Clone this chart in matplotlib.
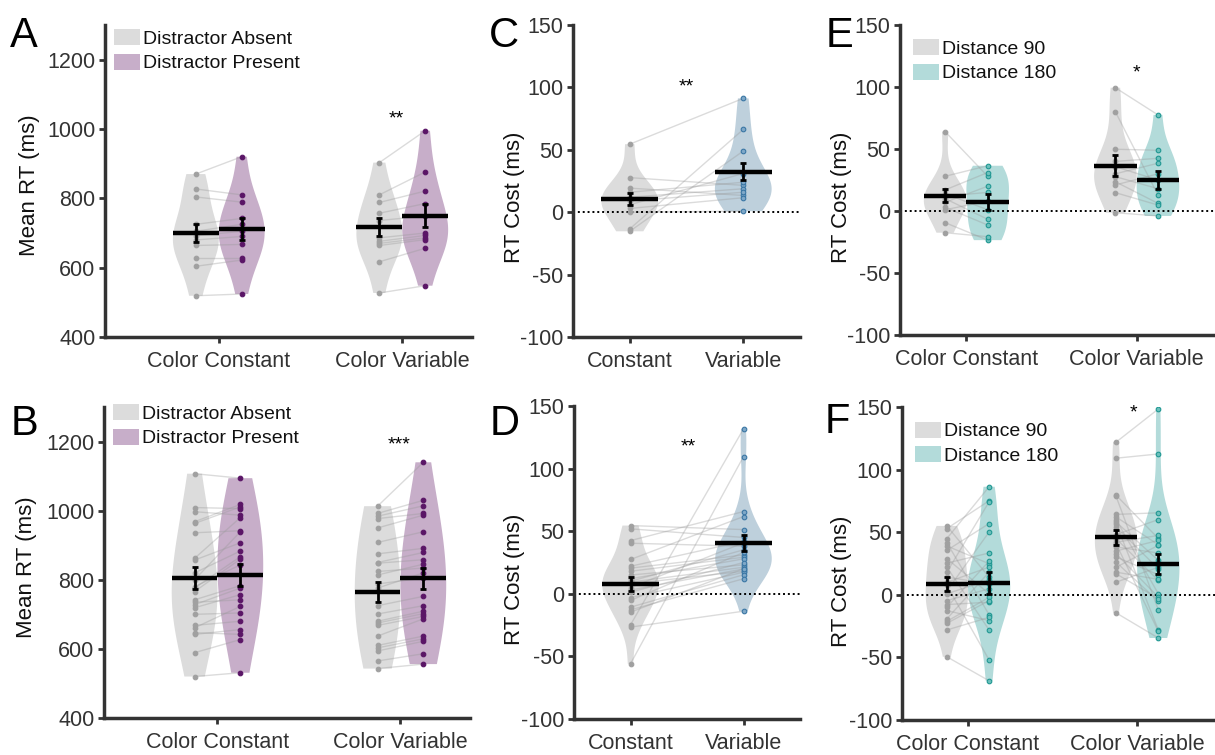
import matplotlib
matplotlib.use('Agg')
import matplotlib.pyplot as plt
from matplotlib.patches import Patch
import numpy as np

plt.rcParams['font.family'] = ['Liberation Sans', 'DejaVu Sans']
plt.rcParams['axes.unicode_minus'] = False

# ---- data ----
# Panel A, experiment 1 (11 subjects): mean RT
a_abs_con = [870, 827, 804, 725, 705, 692, 680, 664, 628, 604, 519]
a_pre_con = [920, 810, 789, 742, 725, 705, 690, 667, 628, 622, 524]
a_abs_var = [903, 810, 788, 757, 736, 686, 676, 670, 664, 617, 527]
a_pre_var = [995, 876, 821, 785, 749, 700, 693, 686, 681, 656, 548]
a_means = [[700, 711], [717, 750]]
a_sems = [[27, 31], [27, 33]]

# Panel B, experiment 2 (24 subjects): mean RT
b_abs_con = [1107, 1009, 997, 968, 963, 936, 862, 857, 820, 800, 780, 776,
             766, 742, 735, 728, 719, 700, 668, 661, 647, 642, 589, 520]
b_pre_con = [1094, 1006, 987, 1018, 1011, 942, 980, 907, 883, 939, 843, 867,
             860, 783, 742, 776, 757, 704, 680, 723, 642, 656, 627, 531]
b_abs_var = [1013, 992, 984, 977, 950, 908, 875, 850, 848, 824, 814, 788,
             776, 725, 701, 680, 675, 668, 637, 610, 603, 594, 565, 543]
b_pre_var = [1140, 1030, 1014, 992, 987, 939, 891, 879, 858, 834, 845, 805,
             820, 752, 725, 709, 702, 694, 687, 637, 629, 622, 586, 556]
b_means = [[805, 814], [765, 804]]
b_sems = [[32, 32], [29, 31]]

# Panel C: RT cost, experiment 1
c_con = [54.5, 27.7, 19.3, 16, 12, 9, 6, 3, 0, -13.4, -15.3]
c_var = [91.2, 21.5, 13.4, 24, 18.8, 16, 31, 11.6, 0.8, 66.3, 49]
c_means = [10.4, 32.5]
c_sems = [5, 7]

# Panel D: RT cost, experiment 2
d_con = [54.5, 51.9, 42.5, 40.4, 27.4, 20.5, 22, 18, 15, 12, 10, 9.3,
         8, 5, 3, 1.3, -3, -5.3, -10.7, -12.8, -14.7, -24.8, -26.6, -55.9]
d_var = [51.3, 45, 65.7, 38, 61.7, 31, 42, 29.2, 23.1, 27.9, 35.1, 21.2,
         18, 40.7, 19.9, 25, 17.2, 33, 15.2, 12, 20, 131.7, -13.9, 109.6]
d_means = [8.2, 40.4]
d_sems = [5.6, 6.5]

# Panel E: RT cost by distance, experiment 1
e_d90_con = [64, 28, 17, 14, 12, 10, 7, 3, 1, -9.4, -17.5]
e_d180_con = [28, 36.5, 31, 1, 15, -6.7, 20, -11.3, 8, -23.5, -20.7]
e_d90_var = [99.4, 80, 49.8, 40, 35.7, 30, 27.7, 23.6, 21, 14.8, -1.4]
e_d180_var = [77.5, 12.9, 49, 42.5, 25, 38.5, 18, 6.2, 30, 4.8, -4]
e_means = [[12.5, 7.3], [36.5, 25]]
e_sems = [[5.5, 6.5], [8.5, 7]]

# Panel F: RT cost by distance, experiment 2
f_d90_con = [55, 52.9, 44.9, 41.7, 39, 35.5, 28.9, 25.3, 22.1, 18.1, 14.1, 10,
             7.5, 3, 0.8, -4.6, -7.8, -9.9, -12.6, -19.2, -21.2, -22.8, -28.1, -49.5]
f_d180_con = [14.1, 75.1, 86.3, -16, 24.8, 56.9, 0.8, 33.4, -28.1, 74.3, 8.8, 22.1,
              -52.1, 50.2, 12, 4.8, -5.9, 26.9, -20.6, 18.1, -2, -4.6, -18, -68.7]
f_d90_var = [121.9, 109.1, 79.6, 78.8, 64.2, 62.2, 60.1, 58.2, 56.9, 54.2, 48, 44.9,
             42, 40.9, 38.2, 35, 32.9, 30.2, 26.1, 22, 18.1, 16.8, 10.1, -14.4]
f_d180_var = [148.4, 112.5, 45, -12, 65.5, 40, 0.8, 27.5, -28.1, 20.8, 60.1, 11.5,
              47.4, -29.2, 33.4, 43.4, -1.9, 16, -5.1, 39.5, 12.3, -3, 22, -34.5]
f_means = [[8.5, 9.5], [46, 24.5]]
f_sems = [[5.6, 8.7], [6, 8]]

# ---- styling ----
GRAY_V, GRAY_P = '#dcdcdc', '#a0a0a0'
PURP_V, PURP_P = '#c7aec9', '#5a1566'
BLUE_V, BLUE_P = '#bed0dc', '#3a76a4'
TEAL_V, TEAL_P = '#b3dbda', '#1f9792'
TXT = '#333333'
FS_TICK, FS_LAB, FS_LEG = 15.5, 16, 14

W, H = 1215, 755
fig = plt.figure(figsize=(W / 100, H / 100), dpi=100)


def px_axes(l, t, r, b):
    return fig.add_axes([l / W, 1 - b / H, (r - l) / W, (b - t) / H])


def violin(ax, x, vals, width, color, bw=None):
    parts = ax.violinplot(vals, positions=[x], widths=width, showextrema=False,
                          bw_method=bw)
    for body in parts['bodies']:
        body.set_facecolor(color)
        body.set_edgecolor('none')
        body.set_alpha(1)
        body.set_zorder(1)


def points(ax, x, vals, fc, ec):
    ax.scatter([x] * len(vals), vals, s=11, facecolor=fc, edgecolor=ec,
               linewidth=0.8, zorder=3)


def pair_lines(ax, x1, v1, x2, v2):
    for a, b in zip(v1, v2):
        ax.plot([x1, x2], [a, b], color='#999999', alpha=0.35, lw=1, zorder=2)


def mean_bar(ax, x, m, e, half):
    ax.plot([x - half, x + half], [m, m], color='k', lw=3.2,
            solid_capstyle='butt', zorder=4)
    ax.errorbar([x], [m], yerr=[e], fmt='none', ecolor='k', elinewidth=2,
                capsize=2.5, capthick=2, zorder=5)


def style(ax, xlim, ylim, yticks, xlabels, ylabel, lab_xy):
    ax.set_xlim(*xlim)
    ax.set_ylim(*ylim)
    ax.set_yticks(yticks)
    ax.set_xticks([1, 2])
    ax.set_xticklabels(xlabels)
    for s in ['top', 'right']:
        ax.spines[s].set_visible(False)
    for s in ['left', 'bottom']:
        ax.spines[s].set_linewidth(2.5)
        ax.spines[s].set_color(TXT)
    ax.tick_params(axis='both', labelsize=FS_TICK, colors=TXT, width=2,
                   length=4, direction='out')
    ax.tick_params(axis='x', pad=6)
    ax.tick_params(axis='y', pad=3)
    ax.set_ylabel(ylabel, fontsize=FS_LAB, color='#111111')
    ax.yaxis.set_label_coords(*lab_xy)


def paired_panel(ax, data, means, sems, vcolors, pcolors, bw=None):
    # data: [[cond1, cond2] for category 1, [cond1, cond2] for category 2]
    off = 0.125
    for i, (c1, c2) in enumerate(data):
        x = i + 1
        violin(ax, x - off, c1, 0.25, vcolors[0], bw)
        violin(ax, x + off, c2, 0.25, vcolors[1], bw)
        pair_lines(ax, x - off, c1, x + off, c2)
        points(ax, x - off, c1, pcolors[0][0], pcolors[0][1])
        points(ax, x + off, c2, pcolors[1][0], pcolors[1][1])
        mean_bar(ax, x - off, means[i][0], sems[i][0], off)
        mean_bar(ax, x + off, means[i][1], sems[i][1], off)


def cost_panel(ax, con, var, means, sems):
    violin(ax, 1, con, 0.5, GRAY_V)
    violin(ax, 2, var, 0.5, BLUE_V)
    pair_lines(ax, 1, con, 2, var)
    points(ax, 1, con, GRAY_P, GRAY_P)
    points(ax, 2, var, '#7fa8c8', BLUE_P)
    mean_bar(ax, 1, means[0], sems[0], 0.25)
    mean_bar(ax, 2, means[1], sems[1], 0.25)


def zero_line(ax):
    ax.axhline(0, color='k', ls=(0, (1, 1.5)), lw=1.4, zorder=2.5)


def legend(ax, labels, colors, anchor):
    handles = [Patch(facecolor=c, edgecolor='none') for c in colors]
    leg = ax.legend(handles, labels, loc='upper left', bbox_to_anchor=anchor,
                    frameon=False, fontsize=FS_LEG, handlelength=1.35,
                    handleheight=0.9, handletextpad=0.15, labelspacing=0.3,
                    borderpad=0, borderaxespad=0)
    for t in leg.get_texts():
        t.set_color('#111111')


rt_ticks = [400, 600, 800, 1000, 1200]
cost_ticks = [-100, -50, 0, 50, 100, 150]
gray_pt = (GRAY_P, GRAY_P)
purp_pt = (PURP_P, PURP_P)
teal_pt = ('#6cc0bc', TEAL_P)
lab_dist = ['Distance 90', 'Distance 180']
lab_dis = ['Distractor Absent', 'Distractor Present']

# A
axA = px_axes(105, 25, 472, 337)
paired_panel(axA, [[a_abs_con, a_pre_con], [a_abs_var, a_pre_var]],
             a_means, a_sems, [GRAY_V, PURP_V], [gray_pt, purp_pt])
style(axA, (0.38, 2.38), (400, 1300), rt_ticks, ['Color Constant', 'Color Variable'],
      'Mean RT (ms)', (-0.177, 0.486))
legend(axA, lab_dis, [GRAY_V, PURP_V], (0.025, 0.987))
axA.text(1.97, 1030, '**', ha='center', va='center', fontsize=14)

# B
axB = px_axes(104, 407, 470, 718)
paired_panel(axB, [[b_abs_con, b_pre_con], [b_abs_var, b_pre_var]],
             b_means, b_sems, [GRAY_V, PURP_V], [gray_pt, purp_pt], bw=1.0)
style(axB, (0.38, 2.38), (400, 1300), rt_ticks, ['Color Constant', 'Color Variable'],
      'Mean RT (ms)', (-0.183, 0.486))
legend(axB, lab_dis, [GRAY_V, PURP_V], (0.025, 1.01))
axB.text(1.99, 1190, '***', ha='center', va='center', fontsize=14)

# C
axC = px_axes(573, 25, 800, 337)
cost_panel(axC, c_con, c_var, c_means, c_sems)
zero_line(axC)
style(axC, (0.5, 2.5), (-100, 150), cost_ticks, ['Constant', 'Variable'],
      'RT Cost (ms)', (-0.211, 0.447))
axC.text(1.5, 100, '**', ha='center', va='center', fontsize=14)

# D
axD = px_axes(574, 406, 800, 719)
cost_panel(axD, d_con, d_var, d_means, d_sems)
zero_line(axD)
style(axD, (0.5, 2.5), (-100, 150), cost_ticks, ['Constant', 'Variable'],
      'RT Cost (ms)', (-0.217, 0.447))
axD.text(1.51, 117, '**', ha='center', va='center', fontsize=14)

# E
axE = px_axes(900, 25, 1215, 335)
paired_panel(axE, [[e_d90_con, e_d180_con], [e_d90_var, e_d180_var]],
             e_means, e_sems, [GRAY_V, TEAL_V], [gray_pt, teal_pt])
zero_line(axE)
style(axE, (0.61, 2.46), (-100, 150), cost_ticks, ['Color Constant', 'Color Variable'],
      'RT Cost (ms)', (-0.152, 0.444))
legend(axE, lab_dist, [GRAY_V, TEAL_V], (0.04, 0.955))
axE.text(2.0, 111, '*', ha='center', va='center', fontsize=14)

# F
axF = px_axes(902, 407, 1215, 720)
paired_panel(axF, [[f_d90_con, f_d180_con], [f_d90_var, f_d180_var]],
             f_means, f_sems, [GRAY_V, TEAL_V], [gray_pt, teal_pt])
zero_line(axF)
style(axF, (0.61, 2.46), (-100, 150), cost_ticks, ['Color Constant', 'Color Variable'],
      'RT Cost (ms)', (-0.16, 0.444))
legend(axF, lab_dist, [GRAY_V, TEAL_V], (0.04, 0.953))
axF.text(1.98, 145, '*', ha='center', va='center', fontsize=14)

# panel letters
for letter, x, y in [('A', 10, 47), ('C', 489, 47), ('E', 826, 47),
                     ('B', 11, 435), ('D', 490, 435), ('F', 825, 433)]:
    fig.text(x / W, 1 - y / H, letter, fontsize=30, va='baseline', ha='left')

fig.savefig('out.png', dpi=100)
